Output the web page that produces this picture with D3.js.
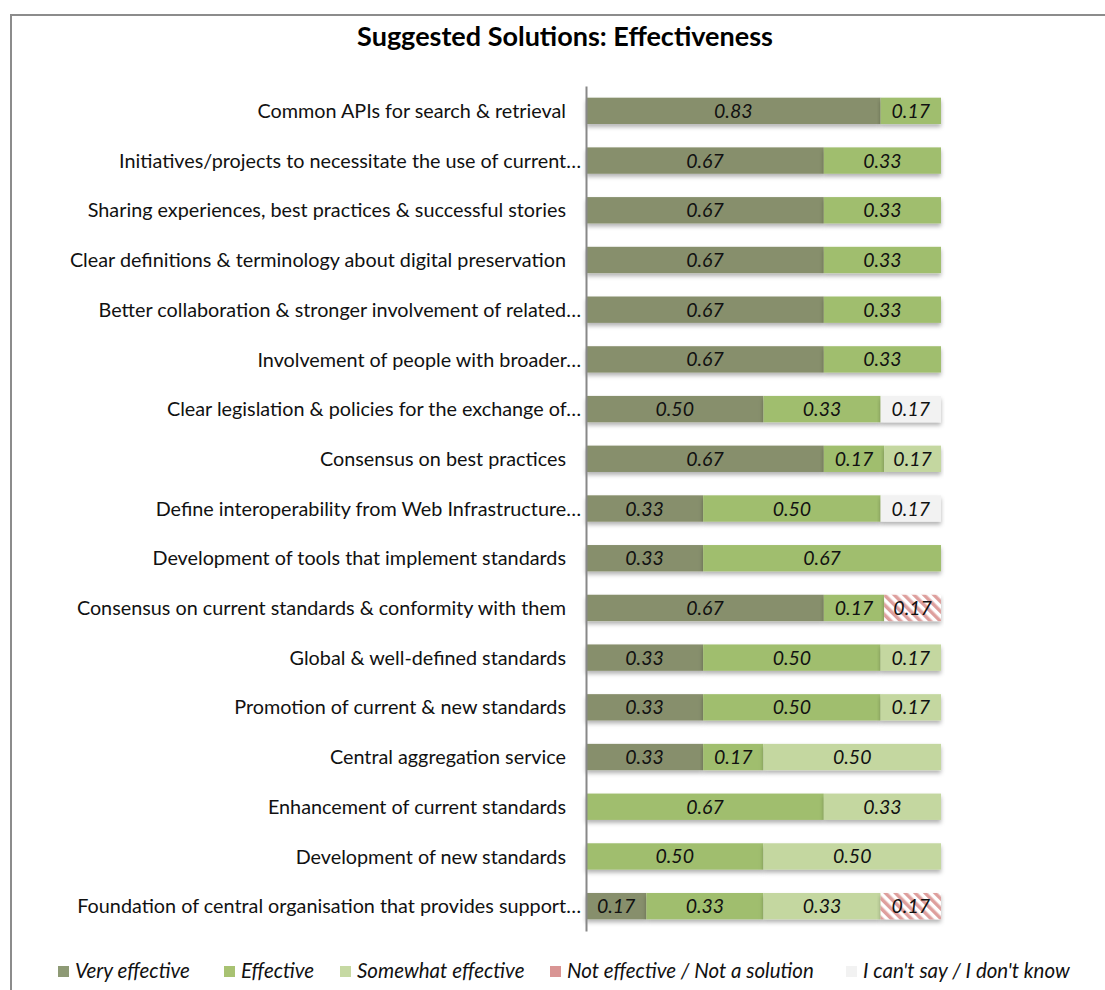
<!DOCTYPE html>
<html><head><meta charset="utf-8">
<script src="https://cdn.jsdelivr.net/npm/d3@7"></script>
<style>
body{margin:0;background:#fff;}
svg{display:block;}
</style></head>
<body><svg id="chart" width="1105" height="990"></svg>
<script>
const categories = [
 "Common APIs for search & retrieval",
 "Initiatives/projects to necessitate the use of current…",
 "Sharing experiences, best practices & successful stories",
 "Clear definitions & terminology about digital preservation",
 "Better collaboration & stronger involvement of related…",
 "Involvement of people with broader…",
 "Clear legislation & policies for the exchange of…",
 "Consensus on best practices",
 "Define interoperability from Web Infrastructure…",
 "Development of tools that implement standards",
 "Consensus on current standards & conformity with them",
 "Global & well-defined standards",
 "Promotion of current & new standards",
 "Central aggregation service",
 "Enhancement of current standards",
 "Development of new standards",
 "Foundation of central organisation that provides support…"
];
const seriesNames = ["Very effective","Effective","Somewhat effective","Not effective / Not a solution","I can't say / I don't know"];
const veryEffective = [0.83,0.67,0.67,0.67,0.67,0.67,0.50,0.67,0.33,0.33,0.67,0.33,0.33,0.33,0,0,0.17];
const effective     = [0.17,0.33,0.33,0.33,0.33,0.33,0.33,0.17,0.50,0.67,0.17,0.50,0.50,0.17,0.67,0.50,0.33];
const somewhat      = [0,0,0,0,0,0,0,0.17,0,0,0,0.17,0.17,0.50,0.33,0.50,0.33];
const notEffective  = [0,0,0,0,0,0,0,0,0,0,0.17,0,0,0,0,0,0.17];
const cantSay       = [0,0,0,0,0,0,0.17,0,0.17,0,0,0,0,0,0,0,0];

const colors = ["#878f6c","#a0be6e","#c4d7a0","url(#hatch)","#f2f2f2"];
const legendColors = ["#8e9a75","#a8c272","#c6d9a3","#d99594","#f2f2f2"];
const legendX = [58,224,340,550,846];

const rows = categories.map((c,i)=>({cat:c, v:[veryEffective[i],effective[i],somewhat[i],notEffective[i],cantSay[i]]}));
const keys = d3.range(5);
const stack = d3.stack().keys(keys).value((d,k)=>d.v[k]);
const stacked = stack(rows);

const svg = d3.select("#chart");
const FONT = "Lato, 'Open Sans', sans-serif";
const defs = svg.append("defs");
const pat = defs.append("pattern").attr("id","hatch").attr("patternUnits","userSpaceOnUse")
  .attr("width",7).attr("height",7).attr("patternTransform","rotate(-45)");
pat.append("rect").attr("width",7).attr("height",7).attr("fill","#ffffff");
pat.append("rect").attr("width",3.5).attr("height",7).attr("fill","#de9f9d");
const f = defs.append("filter").attr("id","shadow").attr("x","-5%").attr("y","-30%").attr("width","110%").attr("height","180%");
f.append("feDropShadow").attr("dx",0).attr("dy",3).attr("stdDeviation",2).attr("flood-color","#000").attr("flood-opacity",0.3);

// frame
svg.append("path").attr("d","M11,990 V15 H1105").attr("fill","none").attr("stroke","#8c8c8c").attr("stroke-width",2);

// title
svg.append("text").attr("x",565).attr("y",46).attr("text-anchor","middle")
  .attr("font-family",FONT).attr("font-weight","bold").attr("font-size",27).attr("fill","#000")
  .text("Suggested Solutions: Effectiveness");

const x = d3.scaleLinear().domain([0,1]).range([586,941]).clamp(true);
const y = d3.scaleBand().domain(categories).range([86,931]).paddingInner(0.47).paddingOuter(0.235);

const g = svg.append("g");
stacked.forEach((s,k)=>{
  g.selectAll(null).data(s.filter(d=>d[1]-d[0]>0)).enter().append("rect")
    .attr("x",d=>x(d[0])).attr("width",d=>x(d[1])-x(d[0]))
    .attr("y",d=>y(d.data.cat)).attr("height",y.bandwidth())
    .attr("fill",colors[k]).attr("filter","url(#shadow)");
});
stacked.forEach((s,k)=>{
  g.selectAll(null).data(s.filter(d=>d[1]-d[0]>0)).enter().append("text")
    .attr("x",d=>(x(d[0])+x(d[1]))/2).attr("y",d=>y(d.data.cat)+y.bandwidth()/2)
    .attr("dy","0.36em").attr("text-anchor","middle")
    .attr("font-family",FONT).attr("font-style","italic").attr("font-size",19.5).attr("fill","#111")
    .text(d=>(d[1]-d[0]).toFixed(2));
});

// axis
const yAxis = d3.axisLeft(y).tickSize(0).tickPadding(0);
const ax = svg.append("g").attr("transform","translate(586,0)").call(yAxis);
ax.select(".domain").attr("stroke","#888").attr("stroke-width",2);
ax.selectAll("text").attr("font-family",FONT).attr("font-size",19.8).attr("fill","#111")
  .attr("x",d=>d.endsWith("…")?-5:-20).attr("dy","0.36em");

// legend
const lg = svg.append("g");
seriesNames.forEach((n,i)=>{
  lg.append("rect").attr("x",legendX[i]).attr("y",966).attr("width",11).attr("height",11).attr("fill",legendColors[i]);
  lg.append("text").attr("x",legendX[i]+17).attr("y",978).attr("font-family",FONT).attr("font-style","italic")
    .attr("font-size",20.5).attr("fill","#111").text(n);
});
</script></body></html>
